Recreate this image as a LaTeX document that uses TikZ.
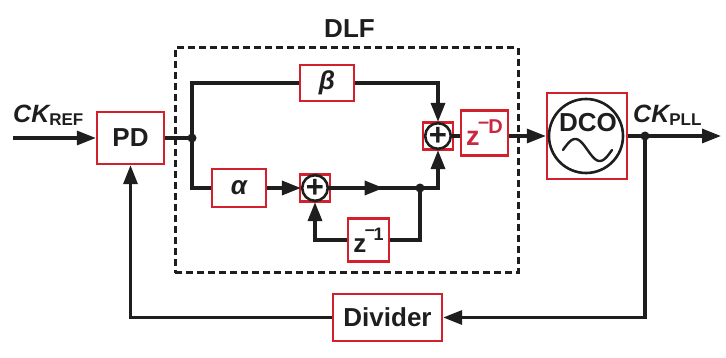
\documentclass[tikz,border=0pt]{standalone}
\usepackage{fontspec}
\setmainfont{Liberation Sans}
\usetikzlibrary{arrows.meta,calc}
\definecolor{inkblack}{HTML}{1E1E1E}
\definecolor{boxred}{HTML}{D2202C}
\definecolor{delayred}{HTML}{C9283E}
\newcommand{\setfs}[1]{\fontsize{#1}{#1}\selectfont}
\begin{document}
\begin{tikzpicture}[x=1pt,y=-1pt,
  conn/.style={line width=3.3pt, draw=inkblack},
  arr/.style={-{Triangle[length=19pt,width=14pt]}},
  blk/.style={draw=boxred, line width=2.3pt, fill=white, inner sep=0pt,
              text=inkblack, font=\bfseries\setfs{26}},
  sumc/.style={circle, draw=inkblack, line width=2.6pt, fill=white,
               minimum size=25pt, inner sep=0pt, text=inkblack,
               font=\bfseries\setfs{31}},
  lbl/.style={inner sep=0pt, text=inkblack, font=\bfseries\setfs{26}},
  dot/.style={fill=inkblack}
]
\useasboundingbox (0,0) rectangle (726,358);

% digital loop filter frame
\node[draw=inkblack, line width=3pt, dash pattern=on 7pt off 4pt,
      minimum width=343pt, minimum height=225pt, inner sep=0pt] (dlf) at (346.5,160.5) {};
\node[lbl] (dlflabel) at (349.5,29) {DLF};

% blocks
\node[blk, minimum width=67pt, minimum height=52pt] (pd) at (130.5,138) {PD};
\node[blk, minimum width=54pt, minimum height=36pt] (beta) at (327,83) {\itshape β};
\node[blk, minimum width=54pt, minimum height=38pt] (alpha) at (239,188) {\itshape α};
\node[blk, minimum width=30pt, minimum height=27pt] (s1box) at (438,136) {};
\node[sumc] (s1) at (438,136) {\raisebox{-1pt}{+}};
\node[blk, minimum width=30pt, minimum height=27pt] (s2box) at (315,188) {};
\node[sumc] (s2) at (315,188) {\raisebox{-1pt}{+}};
\node[blk, minimum width=47pt, minimum height=45pt, text=delayred] (zD) at (484.5,133)
  {{\setfs{27}z}\kern-1.5pt\raisebox{12pt}{\setfs{20}\raisebox{5pt}{–}\kern-1pt D}};
\node[blk, minimum width=41pt, minimum height=43pt] (zm1) at (368.5,240)
  {{\setfs{26}z}\kern-1.5pt\raisebox{12pt}{\setfs{18}\raisebox{5pt}{–}\kern-1.5pt 1}};
\node[blk, minimum width=109pt, minimum height=47pt] (div) at (387.5,317.5) {Divider};

% oscillator
\node[blk, minimum width=80pt, minimum height=86pt] (dco) at (587,136) {};
\node[circle, draw=inkblack, line width=2.6pt, minimum size=74pt, inner sep=0pt] (dcoring) at (586,136) {};
\node[lbl] (dcolabel) at (588,123) {DCO};
\draw[line width=2.4pt, inkblack, line cap=round]
  plot[domain=0:360, samples=50] ({563+\x/360*49},{150-11*sin(\x)});

% signal labels
\node[lbl, anchor=base west, font=\bfseries\itshape\setfs{25}] (ckref) at (13,123)
  {CK\raisebox{-3pt}{\upshape\setfs{17}REF}};
\node[lbl, anchor=base west, font=\bfseries\itshape\setfs{25}] (ckpll) at (633,123)
  {CK\raisebox{-3pt}{\upshape\setfs{17}PLL}};

% junctions and free ends
\coordinate (in0) at (13,138);
\coordinate (d1) at (192,138);
\coordinate (d2) at (420,188);
\coordinate (d3) at (645,136);
\coordinate (out) at (721,136);

% connections
\draw[conn,arr] (in0) -- (pd.west);
\draw[conn] (pd.east) -- (d1);
\draw[conn] (d1) |- (beta.west);
\draw[conn,arr] (beta.east) -| (s1.north);
\draw[conn] (d1) |- (alpha.west);
\draw[conn,arr] (alpha.east) -- (s2.west);
\draw[conn] (s2.east) -- (d2);
\draw[conn,arr] (s2.east) -- ($(s2.east)!0.6!(d2)$);
\draw[conn,arr] (d2) -| (s1.south);
\draw[conn] (d2) |- (zm1.east);
\draw[conn,arr] (zm1.west) -| (s2.south);
\draw[conn] (s1.east) -- (zD.west |- s1.east);
\draw[conn,arr] (zD.east |- s1.east) -- (dco.west);
\draw[conn] (dco.east) -- (d3);
\draw[conn,arr] (d3) -- (out);
\draw[conn,arr] (d3) |- (div.east);
\draw[conn,arr] (div.west) -| (pd.south);

\fill[dot] (d1) circle (4.5pt);
\fill[dot] (d2) circle (4.5pt);
\fill[dot] (d3) circle (4.5pt);
\end{tikzpicture}
\end{document}
